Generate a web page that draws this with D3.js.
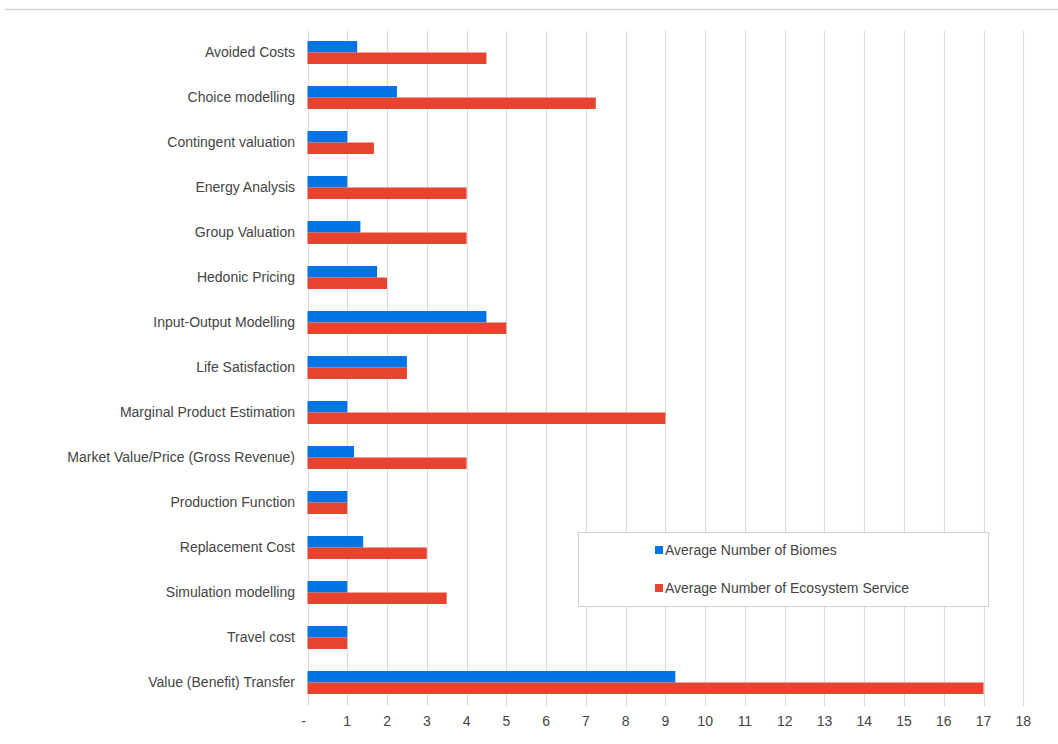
<!DOCTYPE html>
<html>
<head>
<meta charset="utf-8">
<script src="https://cdn.jsdelivr.net/npm/d3@7"></script>
<style>
  body { margin: 0; background: #fff; }
  svg { display: block; font-family: "Liberation Sans", Arial, Helvetica, sans-serif; }
</style>
</head>
<body>
<svg id="chart" width="1058" height="744"></svg>
<script>
const categories = [
  "Avoided Costs", "Choice modelling", "Contingent valuation", "Energy Analysis",
  "Group Valuation", "Hedonic Pricing", "Input-Output Modelling", "Life Satisfaction",
  "Marginal Product Estimation", "Market Value/Price (Gross Revenue)", "Production Function",
  "Replacement Cost", "Simulation modelling", "Travel cost", "Value (Benefit) Transfer"
];
const biomes = [1.25, 2.25, 1, 1, 1.33, 1.75, 4.5, 2.5, 1, 1.17, 1, 1.4, 1, 1, 9.25];
const ecosystemServices = [4.5, 7.25, 1.67, 4, 4, 2, 5, 2.5, 9, 4, 1, 3, 3.5, 1, 17];
const seriesNames = ["Average Number of Biomes", "Average Number of Ecosystem Service"];
const tickValues = d3.range(0, 19);
const tickLabels = ["-", "1","2","3","4","5","6","7","8","9","10","11","12","13","14","15","16","17","18"];

const colors = ["#0073E6", "#E84330"];
const svg = d3.select("#chart");

// top rule
svg.append("line").attr("x1", 5).attr("x2", 1058).attr("y1", 9.5).attr("y2", 9.5)
  .attr("stroke", "#d9d9d9").attr("stroke-width", 1.5);

const x = d3.scaleLinear().domain([0, 17]).range([307.5, 983.5]);
const y = d3.scaleBand().domain(categories).range([30, 705]).paddingInner(0.49).paddingOuter(0.245);
const sub = d3.scaleBand().domain([0, 1]).range([0, y.bandwidth()]);

// gridlines
svg.append("g").selectAll("line").data(tickValues).join("line")
  .attr("x1", d => Math.round(x(d)) + 0.5).attr("x2", d => Math.round(x(d)) + 0.5)
  .attr("y1", 31).attr("y2", 706)
  .attr("stroke", "#dcdcdc").attr("stroke-width", 1.2);

// bars
const series = [biomes, ecosystemServices];
series.forEach((vals, si) => {
  svg.append("g").selectAll("rect").data(vals).join("rect")
    .attr("x", x(0))
    .attr("y", (d, i) => y(categories[i]) + sub(si))
    .attr("width", d => x(d) - x(0))
    .attr("height", sub.bandwidth())
    .attr("fill", colors[si]);
});

// category labels
svg.append("g").selectAll("text").data(categories).join("text")
  .attr("x", 295)
  .attr("y", d => y(d) + y.bandwidth() / 2)
  .attr("dy", "0.35em")
  .attr("text-anchor", "end")
  .attr("font-size", 14)
  .attr("fill", "#444")
  .text(d => d);

// x tick labels
svg.append("g").selectAll("text").data(tickValues).join("text")
  .attr("x", (d, i) => i === 0 ? x(d) - 4 : x(d))
  .attr("y", 721)
  .attr("dy", "0.35em")
  .attr("text-anchor", "middle")
  .attr("font-size", 14)
  .attr("fill", "#444")
  .text((d, i) => tickLabels[i]);

// legend
const lg = svg.append("g");
lg.append("rect").attr("x", 578.5).attr("y", 532.5).attr("width", 410).attr("height", 74)
  .attr("fill", "#fff").attr("stroke", "#cfcfcf").attr("stroke-width", 1);
seriesNames.forEach((name, i) => {
  const yy = 550 + i * 38;
  lg.append("rect").attr("x", 655).attr("y", yy - 4).attr("width", 8).attr("height", 8).attr("fill", colors[i]);
  lg.append("text").attr("x", 665).attr("y", yy).attr("dy", "0.35em")
    .attr("font-size", 14).attr("fill", "#444").text(name);
});
</script>
</body>
</html>
